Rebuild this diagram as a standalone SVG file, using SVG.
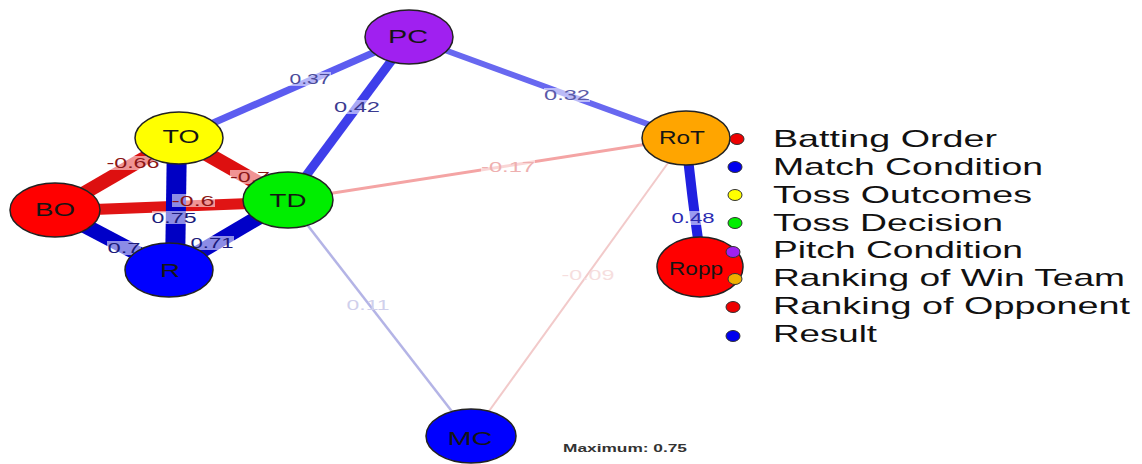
<svg xmlns="http://www.w3.org/2000/svg" width="1142" height="464" viewBox="0 0 1142 464">
<style>
.node{stroke:#222;stroke-width:1.5}
.nl{font-family:"Liberation Sans",Arial,sans-serif;font-size:19px;text-anchor:middle;fill:#151515}
.el{font-family:"Liberation Sans",Arial,sans-serif;font-size:15px;text-anchor:middle}
.bg{fill:#fff;opacity:0.55}
.lg{font-family:"Liberation Sans",Arial,sans-serif;font-size:24px;fill:#111}
.dot{stroke:#333;stroke-width:1}
.e{fill:none;stroke-linecap:butt}
</style>
<rect width="1142" height="464" fill="#fff"/>
<g id="connectors">
  <line class="e" x1="409" y1="37" x2="179" y2="138" stroke="#5c5cf0" stroke-width="7"/>
  <line class="e" x1="409" y1="37" x2="288" y2="200" stroke="#3e3eea" stroke-width="9"/>
  <line class="e" x1="409" y1="37" x2="686" y2="138" stroke="#6868f0" stroke-width="6"/>
  <line class="e" x1="179" y1="138" x2="55" y2="210" stroke="#dd1010" stroke-width="14"/>
  <line class="e" x1="179" y1="138" x2="288" y2="200" stroke="#dd1010" stroke-width="15"/>
  <line class="e" x1="55" y1="211" x2="288" y2="202" stroke="#e01414" stroke-width="11"/>
  <line class="e" x1="177" y1="138" x2="175" y2="270" stroke="#0000c4" stroke-width="20"/>
  <line class="e" x1="55" y1="210" x2="169" y2="270" stroke="#0000c8" stroke-width="15"/>
  <line class="e" x1="288" y1="200" x2="169" y2="270" stroke="#0000c8" stroke-width="15"/>
  <line class="e" x1="288" y1="200" x2="686" y2="138" stroke="#f4a4a4" stroke-width="3"/>
  <line class="e" x1="288" y1="200" x2="471" y2="436" stroke="#b4b4e6" stroke-width="2.5"/>
  <line class="e" x1="686" y1="138" x2="471" y2="436" stroke="#f2caca" stroke-width="2"/>
  <path class="e" d="M686 138 Q692 200 702 267" stroke="#2020e0" stroke-width="10"/>
  <rect class="bg" x="289" y="72" width="42" height="14"/>
  <text class="el" x="310" y="84" textLength="41" lengthAdjust="spacingAndGlyphs" fill="#4a4a9a">0.37</text>
  <rect class="bg" x="334" y="100" width="46" height="14"/>
  <text class="el" x="357" y="112" textLength="46" lengthAdjust="spacingAndGlyphs" fill="#3a3a90">0.42</text>
  <rect class="bg" x="544" y="88" width="46" height="14"/>
  <text class="el" x="567" y="100" textLength="46" lengthAdjust="spacingAndGlyphs" fill="#5a5aa8">0.32</text>
  <rect class="bg" x="481" y="160" width="54" height="14"/>
  <text class="el" x="508" y="172" textLength="54" lengthAdjust="spacingAndGlyphs" fill="#eeb0b0">-0.17</text>
  <rect class="bg" x="107" y="156" width="53" height="14"/>
  <text class="el" x="133" y="168" textLength="53" lengthAdjust="spacingAndGlyphs" fill="#8a1515">-0.66</text>
  <rect class="bg" x="230" y="170" width="40" height="14"/>
  <text class="el" x="250" y="182" textLength="40" lengthAdjust="spacingAndGlyphs" fill="#8a1515">-0.7</text>
  <rect class="bg" x="172" y="194" width="43" height="13" opacity="0.4"/>
  <text class="el" x="193" y="206" textLength="43" lengthAdjust="spacingAndGlyphs" fill="#8a1515">-0.6</text>
  <rect class="bg" x="152" y="211" width="45" height="13"/>
  <text class="el" x="174" y="223" textLength="45" lengthAdjust="spacingAndGlyphs" fill="#1a1a7a">0.75</text>
  <rect class="bg" x="107" y="241" width="34" height="14" opacity="0.3"/>
  <text class="el" x="124" y="253" textLength="33" lengthAdjust="spacingAndGlyphs" fill="#1a1a7a">0.7</text>
  <rect class="bg" x="190" y="236" width="44" height="14" opacity="0.3"/>
  <text class="el" x="212" y="248" textLength="43" lengthAdjust="spacingAndGlyphs" fill="#1a1a7a">0.71</text>
  <rect class="bg" x="671" y="211" width="44" height="14" opacity="0.4"/>
  <text class="el" x="693" y="223" textLength="43" lengthAdjust="spacingAndGlyphs" fill="#2a2ab0">0.48</text>
  <text class="el" x="588" y="280" textLength="53" lengthAdjust="spacingAndGlyphs" fill="#f6dede">-0.09</text>
  <text class="el" x="368" y="310" textLength="43" lengthAdjust="spacingAndGlyphs" fill="#d0d0ec">0.11</text>
</g>
<g id="node-PC"><ellipse class="node" cx="409" cy="37" rx="44" ry="27" fill="#a020f0"/><text class="nl" x="408" y="43" textLength="40" lengthAdjust="spacingAndGlyphs" fill="#2a0a40">PC</text></g>
<g id="node-TO"><ellipse class="node" cx="179" cy="138" rx="44" ry="26" fill="#ffff00"/><text class="nl" x="181" y="143" textLength="37" lengthAdjust="spacingAndGlyphs">TO</text></g>
<g id="node-BO"><ellipse class="node" cx="55" cy="210" rx="45" ry="27" fill="#ff0000"/><text class="nl" x="55" y="216" textLength="40" lengthAdjust="spacingAndGlyphs" fill="#4a0808">BO</text></g>
<g id="node-TD"><ellipse class="node" cx="288" cy="200" rx="45" ry="28" fill="#00ee00"/><text class="nl" x="288" y="207" textLength="37" lengthAdjust="spacingAndGlyphs" fill="#0a2a0a">TD</text></g>
<g id="node-R"><ellipse class="node" cx="169" cy="270" rx="44" ry="27" fill="#0000ff"/><text class="nl" x="170" y="277" textLength="20" lengthAdjust="spacingAndGlyphs" fill="#10105a">R</text></g>
<g id="node-RoT"><ellipse class="node" cx="686" cy="138" rx="44" ry="27" fill="#ffa500"/><text class="nl" x="682" y="144" textLength="46" lengthAdjust="spacingAndGlyphs" fill="#2a1a00">RoT</text></g>
<g id="node-Ropp"><ellipse class="node" cx="700" cy="267" rx="43" ry="30" fill="#ff0000"/><text class="nl" x="696" y="275" textLength="54" lengthAdjust="spacingAndGlyphs" fill="#4a0808">Ropp</text></g>
<g id="node-MC"><ellipse class="node" cx="471" cy="436" rx="45" ry="27" fill="#0000ff"/><text class="nl" x="470" y="445" textLength="45" lengthAdjust="spacingAndGlyphs" fill="#10105a">MC</text></g>
<g id="legend">
  <ellipse class="dot" cx="737" cy="139" rx="7" ry="5.5" fill="#ee0000"/>
  <text class="lg" x="773" y="147" textLength="224" lengthAdjust="spacingAndGlyphs">Batting Order</text>
  <ellipse class="dot" cx="735" cy="167" rx="7" ry="5.5" fill="#0000ee"/>
  <text class="lg" x="773" y="175" textLength="270" lengthAdjust="spacingAndGlyphs">Match Condition</text>
  <ellipse class="dot" cx="735" cy="195" rx="7" ry="5.5" fill="#ffff00"/>
  <text class="lg" x="773" y="203" textLength="259" lengthAdjust="spacingAndGlyphs">Toss Outcomes</text>
  <ellipse class="dot" cx="735" cy="223" rx="7" ry="5.5" fill="#00ee00"/>
  <text class="lg" x="773" y="231" textLength="230" lengthAdjust="spacingAndGlyphs">Toss Decision</text>
  <ellipse class="dot" cx="733" cy="252" rx="7" ry="5.5" fill="#a020f0"/>
  <text class="lg" x="773" y="258" textLength="250" lengthAdjust="spacingAndGlyphs">Pitch Condition</text>
  <ellipse class="dot" cx="735" cy="279" rx="7" ry="5.5" fill="#f0b000"/>
  <text class="lg" x="773" y="286" textLength="352" lengthAdjust="spacingAndGlyphs">Ranking of Win Team</text>
  <ellipse class="dot" cx="733" cy="307" rx="7" ry="5.5" fill="#ee0000"/>
  <text class="lg" x="773" y="314" textLength="357" lengthAdjust="spacingAndGlyphs">Ranking of Opponent</text>
  <ellipse class="dot" cx="733" cy="336" rx="7" ry="5.5" fill="#0000ee"/>
  <text class="lg" x="773" y="342" textLength="104" lengthAdjust="spacingAndGlyphs">Result</text>
</g>
<text x="563" y="452" textLength="124" lengthAdjust="spacingAndGlyphs" font-family="Liberation Sans, Arial, sans-serif" font-size="11" font-weight="bold" fill="#333">Maximum: 0.75</text>
</svg>
